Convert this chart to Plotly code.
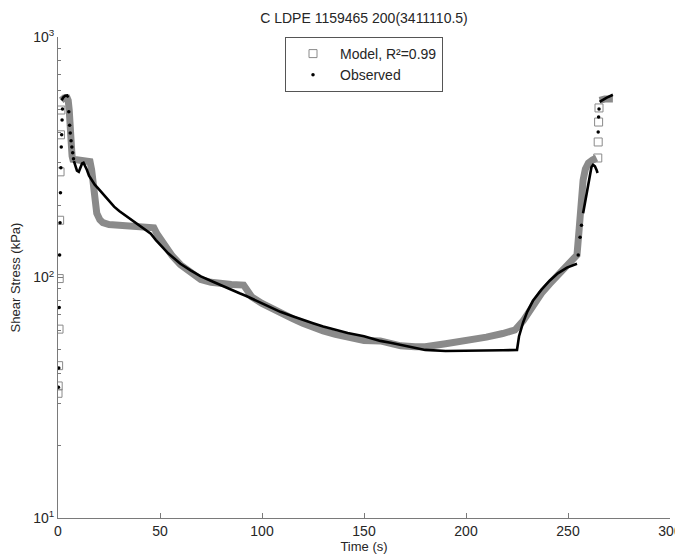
import plotly.graph_objects as go

# ---------------- data ----------------
# Observed: sparse points (start-up, first drop, final jump)
obs_pts_t = [0.2, 0.4, 0.6, 0.8, 1.0, 1.2, 1.4, 1.6, 1.8, 2.0, 2.2,
             5.3, 5.7, 6.0, 6.4, 6.8, 7.2, 7.6,
             255.0, 255.9, 256.6,
             264.8, 265.0, 265.2]
obs_pts_v = [35, 42, 75, 124, 169, 225, 286, 349, 392, 452, 502,
             489, 430, 399, 370, 349, 330, 312,
             124, 147, 165,
             403, 465, 502]

# Observed: dense curve
obs_line_t = [1.8, 2.5, 3.5, 4.5, 5.0, None,
              7.8, 8.5, 9.3, 10.2, 11.0, 11.8, 12.5, 13.3, 14.2, 15.2, 16.5, 18, 20,
              22.5, 25, 27.5, 30, 35, 40, 45.5, 48, 51, 54, 57, 60, 65, 70, 76, 82,
              89, 92, 96, 100, 105, 109, 115, 120, 125, 130, 136, 142, 150, 158, 163,
              168, 174, 180, 190, 200, 210, 218, 225, 226, 228, 230, 232.8, 237, 241,
              245, 249.5, 254.4, None,
              257.4, 259.3, 260.5, 261.5, 262.3, 263.2, 264.0, 264.5, None,
              265.5, 267, 269, 271, 272]
obs_line_v = [545, 560, 570, 572, 560, None,
              305, 288, 278, 275, 285, 298, 300, 292, 280, 265, 254, 243, 233,
              220, 207, 197, 189, 176, 165, 152, 143, 134, 126, 120, 114, 107, 101, 96, 91,
              86, 84, 81, 78, 75, 72, 69, 66.5, 64.5, 62.5, 60.5, 58.8, 57, 54.5, 53.5,
              52.5, 51.3, 50, 49.5, 49.5, 49.5, 49.8, 50, 57, 65, 72, 80, 89, 97,
              104, 110, 114, None,
              185, 231, 265, 288, 294, 290, 280, 272, None,
              537, 548, 560, 570, 575]

# Model: sparse squares (start-up and final jump)
model_pts_t = [0.0, 0.1, 0.3, 0.5, 0.6, 0.8, 1.0, 1.2, 1.4,
               264.6, 264.8, 265.0, 265.2]
model_pts_v = [33, 35.4, 43, 61, 99, 173, 275, 392, 497,
               314, 366, 443, 507]

# Model: dense band
model_line_t = [1.6, 3.0, 4.5, 5.0, 5.5, 6.0, 6.3, 6.6, 6.9, 7.3, 10, 13, 15.7,
                16.5, 17.3, 18, 19, 20.5, 22, 25, 30, 35, 40, 45, 47, 48.5, 50,
                53.4, 56, 60, 65, 70, 75, 80, 85, 91, 93, 95, 100, 105, 109, 115,
                120, 125, 130, 136, 142, 150, 158, 168, 175, 180, 190, 200, 210,
                218, 224, 228, 232.8, 237, 241, 245, 249.5, 254.4, 255.5, 256.5,
                257.4, 258.5, 260, 262, 264, None,
                265.5, 268, 272]
model_line_v = [545, 558, 558, 545, 497, 452, 392, 350, 320, 310, 308, 305, 303,
                280, 240, 205, 185, 174, 169, 166, 165, 164, 163, 162, 161, 152, 145,
                132, 123, 113, 105, 98, 95.5, 94, 93.5, 93, 88, 83, 78, 74, 71, 67.5,
                64.5, 62, 60, 58, 56.5, 54.7, 54.5, 52, 51.5, 51.5, 53, 54.5, 56.5,
                58.5, 60.5, 66, 77, 86, 94, 102, 112, 124, 160, 210,
                254, 282, 299, 308, 314, None,
                545, 552, 552]

x_ticks = [0, 50, 100, 150, 200, 250, 300]
y_ticks = [10, 100, 1000]
y_tick_text = ["10<sup>1</sup>", "10<sup>2</sup>", "10<sup>3</sup>"]
y_minor = [20, 30, 40, 50, 60, 70, 80, 90, 200, 300, 400, 500, 600, 700, 800, 900]

GRAY = "#8a8a8a"
TXT = "#262626"
AX = "#7a7a7a"

# the page body has an 8px margin, so the figure starts at (8, 8) in the window
W, H = 675, 546

fig = go.Figure()
fig.add_trace(go.Scatter(x=model_line_t, y=model_line_v, mode="lines",
                         line=dict(color=GRAY, width=7), showlegend=False,
                         hoverinfo="skip"))
fig.add_trace(go.Scatter(x=model_pts_t, y=model_pts_v, mode="markers",
                         marker=dict(symbol="square-open", color="#8a8a8a", size=8,
                                     line=dict(width=1)),
                         name="Model, R²=0.99"))
fig.add_trace(go.Scatter(x=obs_line_t, y=obs_line_v, mode="lines",
                         line=dict(color="black", width=2.6), showlegend=False,
                         hoverinfo="skip"))
fig.add_trace(go.Scatter(x=obs_pts_t, y=obs_pts_v, mode="markers",
                         marker=dict(symbol="circle", color="black", size=3.5),
                         name="Observed"))

fig.update_layout(
    width=W, height=H,
    margin=dict(l=50, r=13, t=29, b=36, autoexpand=False),
    paper_bgcolor="white", plot_bgcolor="white",
    font=dict(family="Liberation Sans, Arial, sans-serif", size=14, color=TXT),
    title=dict(text="C LDPE 1159465 200(3411110.5)", xref="paper", x=0.5,
               xanchor="center", yref="container", y=1 - 10 / H,
               yanchor="middle", font=dict(size=14, color=TXT)),
    legend=dict(x=0.5, xanchor="center", y=1.0, yanchor="top",
                bordercolor="#555555", borderwidth=1, bgcolor="white",
                font=dict(size=14, color=TXT), tracegroupgap=0,
                itemwidth=44),
    showlegend=True,
)
fig.update_xaxes(range=[0, 300], tickvals=x_ticks, ticks="inside", ticklen=5,
                 tickcolor=AX, showline=True, linecolor=AX, linewidth=1,
                 showgrid=False, zeroline=False, mirror=False, automargin=False,
                 tickfont=dict(size=14, color=TXT),
                 title=dict(text="Time (s)", standoff=0, font=dict(size=13, color=TXT)))
fig.update_yaxes(type="log", range=[1, 3], tickvals=y_ticks, ticktext=y_tick_text,
                 ticks="inside", ticklen=5, tickcolor=AX, showline=True,
                 linecolor=AX, linewidth=1, showgrid=False, zeroline=False,
                 mirror=False, automargin=False, tickfont=dict(size=14, color=TXT),
                 minor=dict(tickvals=y_minor, ticks="inside", ticklen=3,
                            tickcolor=AX, showgrid=False),
                 title=dict(text="Shear Stress (kPa)", standoff=9,
                            font=dict(size=13, color=TXT)))

fig.write_html("out.html")
